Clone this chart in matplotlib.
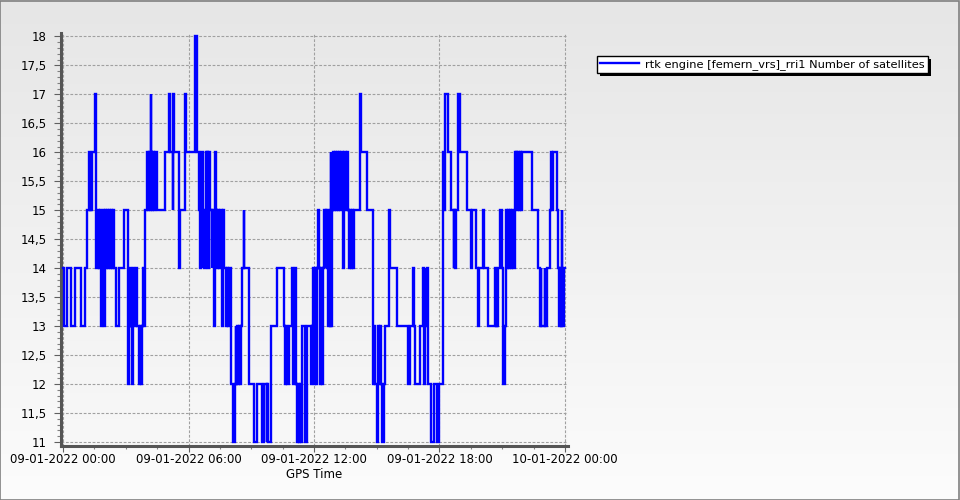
import numpy as np
import matplotlib
matplotlib.use("Agg")
import matplotlib.pyplot as plt
from matplotlib.ticker import MultipleLocator, FixedLocator, FuncFormatter
from matplotlib.colors import LinearSegmentedColormap

# ---- data: hours since 09-01-2022 00:00 (GPS time) and satellite count (step changes)
hours = [0.00, 0.07, 0.17, 0.40, 0.57, 0.88, 1.07, 1.17, 1.24, 1.29, 1.32, 1.36, 1.40, 1.52, 1.57,
         1.60, 1.67, 1.71, 1.76, 1.81, 1.86, 1.90, 1.95, 2.00, 2.05, 2.10, 2.14, 2.19, 2.24, 2.29,
         2.33, 2.38, 2.45, 2.55, 2.67, 2.90, 3.11, 3.14, 3.19, 3.24, 3.32, 3.35, 3.40, 3.48, 3.52,
         3.63, 3.68, 3.71, 3.78, 3.82, 3.86, 3.90, 4.01, 4.05, 4.10, 4.14, 4.19, 4.22, 4.26, 4.30,
         4.35, 4.38, 4.48, 4.86, 5.05, 5.12, 5.24, 5.27, 5.32, 5.56, 5.60, 5.84, 5.89, 6.29, 6.40,
         6.52, 6.56, 6.62, 6.67, 6.71, 6.76, 6.84, 6.87, 6.90, 6.95, 7.00, 7.05, 7.10, 7.14, 7.24,
         7.27, 7.31, 7.38, 7.43, 7.48, 7.52, 7.60, 7.64, 7.71, 7.79, 7.86, 7.90, 7.95, 8.01, 8.05,
         8.14, 8.21, 8.25, 8.29, 8.33, 8.38, 8.43, 8.48, 8.52, 8.57, 8.63, 8.67, 8.89, 9.13, 9.29,
         9.52, 9.60, 9.73, 9.76, 9.81, 9.95, 10.24, 10.56, 10.59, 10.64, 10.71, 10.79, 10.95, 11.00,
         11.07, 11.14, 11.19, 11.25, 11.29, 11.33, 11.38, 11.43, 11.59, 11.67, 11.86, 11.90, 11.94,
         12.00, 12.05, 12.10, 12.14, 12.21, 12.24, 12.29, 12.33, 12.38, 12.43, 12.48, 12.55, 12.59,
         12.64, 12.68, 12.71, 12.76, 12.79, 12.82, 12.86, 12.89, 12.94, 13.00, 13.05, 13.10, 13.14,
         13.19, 13.24, 13.29, 13.41, 13.44, 13.52, 13.57, 13.62, 13.68, 13.71, 13.76, 13.81, 13.86,
         13.92, 14.20, 14.27, 14.52, 14.82, 14.88, 14.93, 15.00, 15.05, 15.11, 15.14, 15.19, 15.27,
         15.33, 15.38, 15.59, 15.62, 15.98, 16.48, 16.57, 16.73, 16.76, 16.81, 17.05, 17.21, 17.24,
         17.29, 17.33, 17.38, 17.44, 17.57, 17.73, 17.89, 18.00, 18.16, 18.19, 18.22, 18.25, 18.43,
         18.56, 18.68, 18.71, 18.75, 18.79, 18.90, 19.00, 19.32, 19.51, 19.54, 19.76, 19.86, 19.90,
         20.10, 20.13, 20.30, 20.65, 20.69, 20.73, 20.76, 20.81, 20.89, 20.97, 21.05, 21.11, 21.16,
         21.19, 21.24, 21.29, 21.33, 21.38, 21.43, 21.48, 21.52, 21.60, 21.64, 21.68, 21.71, 21.76,
         21.81, 21.86, 21.90, 21.95, 22.40, 22.71, 22.79, 22.83, 22.86, 23.03, 23.06, 23.14, 23.27,
         23.35, 23.38, 23.41, 23.63, 23.67, 23.71, 23.76, 23.81, 23.84, 23.88, 23.95, 24.00]
satellites = [14, 13, 14, 13, 14, 13, 14, 15, 16, 15, 16, 15, 16, 17, 16,
              14, 15, 14, 15, 13, 14, 15, 13, 15, 14, 15, 14, 15, 14, 15,
              14, 15, 14, 13, 14, 15, 12, 13, 14, 13, 12, 14, 13, 14, 13,
              12, 13, 12, 13, 14, 13, 15, 16, 15, 16, 15, 17, 16, 15, 16,
              15, 16, 15, 16, 17, 16, 15, 17, 16, 14, 15, 17, 16, 18, 16,
              15, 14, 16, 14, 15, 14, 16, 15, 16, 14, 16, 15, 14, 15, 13,
              16, 15, 14, 15, 14, 15, 13, 15, 14, 13, 14, 13, 14, 13, 12,
              11, 12, 13, 12, 13, 12, 13, 12, 13, 14, 15, 14, 12, 11, 12,
              11, 12, 11, 12, 11, 13, 14, 13, 12, 13, 12, 13, 14, 12,
              14, 12, 11, 12, 11, 12, 11, 13, 11, 13, 12, 13, 14,
              12, 14, 12, 14, 15, 14, 12, 14, 12, 14, 15, 14, 15,
              14, 13, 15, 13, 16, 13, 15, 16, 15, 16, 15, 16, 15,
              16, 15, 16, 14, 16, 15, 16, 15, 14, 15, 14, 15, 14,
              15, 17, 16, 15, 12, 13, 12, 11, 13, 12, 13, 12, 11,
              12, 13, 15, 14, 13, 12, 13, 14, 13, 12, 13, 14, 12,
              14, 13, 14, 12, 11, 12, 11, 12, 15, 16, 15, 17, 16,
              15, 14, 15, 14, 15, 17, 16, 15, 14, 15, 14, 13, 14,
              15, 14, 13, 14, 13, 14, 13, 14, 15, 14, 12, 13, 14,
              15, 14, 15, 14, 15, 14, 15, 14, 16, 15, 16, 15, 16,
              15, 16, 15, 16, 15, 14, 13, 14, 13, 14, 13, 14, 15,
              16, 15, 16, 15, 14, 13, 14, 13, 15, 13, 14, 14]

xtick_hours = [0, 6, 12, 18, 24]
xtick_labels = ["09-01-2022 00:00", "09-01-2022 06:00", "09-01-2022 12:00",
                "09-01-2022 18:00", "10-01-2022 00:00"]
series_label = "rtk engine [femern_vrs]_rri1 Number of satellites"
x_label = "GPS Time"

# ---- figure
W, H = 960, 500
fig = plt.figure(figsize=(W / 100, H / 100), dpi=100)

grad = np.linspace(0, 1, 256).reshape(-1, 1)
bg = fig.add_axes([0, 0, 1, 1], zorder=-10)
cm_fig = LinearSegmentedColormap.from_list("g", ["#e6e6e6", "#fcfcfc"])
bg.imshow(grad, aspect="auto", cmap=cm_fig, extent=[0, 1, 0, 1], origin="upper")
bg.set_axis_off()
bg.add_patch(plt.Rectangle((0.0005, 0.001), 0.998, 0.997, transform=bg.transAxes,
                           fill=False, edgecolor="#808080", lw=1.2))

ax_l, ax_r = 60.5 / W, 567.5 / W
ax_b, ax_t = 1 - 445.5 / H, 1 - 33 / H
ax = fig.add_axes([ax_l, ax_b, ax_r - ax_l, ax_t - ax_b])
ax.set_facecolor("none")
ax.set_xlim(-0.12, 24.12)
ax.set_ylim(10.94, 18.06)

cm_ax = LinearSegmentedColormap.from_list("a", ["#e8e8e8", "#f8f8f8"])
ax.imshow(grad, aspect="auto", cmap=cm_ax, extent=[-0.12, 24.12, 10.94, 18.06],
          origin="upper", zorder=0)

ax.step(hours, satellites, where="post", color="#0000ff", lw=1.7, zorder=3,
        label=series_label, solid_joinstyle="miter")

ax.grid(True, which="major", color="#a0a0a0", linestyle=(0, (2.5, 1.5)), lw=0.8, zorder=1)

ax.xaxis.set_major_locator(FixedLocator(xtick_hours))
ax.set_xticklabels(xtick_labels)
ax.xaxis.set_minor_locator(MultipleLocator(1.5))
ax.yaxis.set_major_locator(MultipleLocator(0.5))
ax.yaxis.set_minor_locator(MultipleLocator(0.1))
ax.yaxis.set_major_formatter(FuncFormatter(
    lambda v, p: (f"{v:.1f}".rstrip("0").rstrip(".")).replace(".", ",")))

ax.tick_params(axis="both", which="major", labelsize=8.5, color="#606060", labelcolor="#000000")
ax.tick_params(axis="x", which="major", length=4, width=0.8, pad=1.5)
ax.tick_params(axis="x", which="minor", length=2.5, width=0.8, color="#808080")
ax.tick_params(axis="y", which="major", length=5, width=0.8, pad=5)
ax.tick_params(axis="y", which="minor", length=3, width=0.8, color="#808080")

for s in ["top", "right"]:
    ax.spines[s].set_visible(False)
for s in ["left", "bottom"]:
    ax.spines[s].set_color("#555555")
    ax.spines[s].set_linewidth(2.2)

ax.set_xlabel(x_label, fontsize=8.5, labelpad=1)

leg = fig.legend(loc="upper left", bbox_to_anchor=(597 / W, 1 - 56 / H), fontsize=8.2,
                 frameon=True, fancybox=False, shadow=False,
                 edgecolor="black", facecolor="white", framealpha=1,
                 borderpad=0.25, handlelength=3.4, handletextpad=0.6, borderaxespad=0)
leg.get_frame().set_linewidth(1.0)

# thin legend shadow (2 px offset)
fig.canvas.draw()
bb = leg.get_window_extent().transformed(fig.transFigure.inverted())
fig.patches.append(plt.Rectangle((bb.x0 + 3 / W, bb.y0 - 3 / H), bb.width, bb.height,
                                 transform=fig.transFigure, facecolor="black",
                                 edgecolor="none", zorder=-1, figure=fig))

fig.savefig("out.png", dpi=100)
